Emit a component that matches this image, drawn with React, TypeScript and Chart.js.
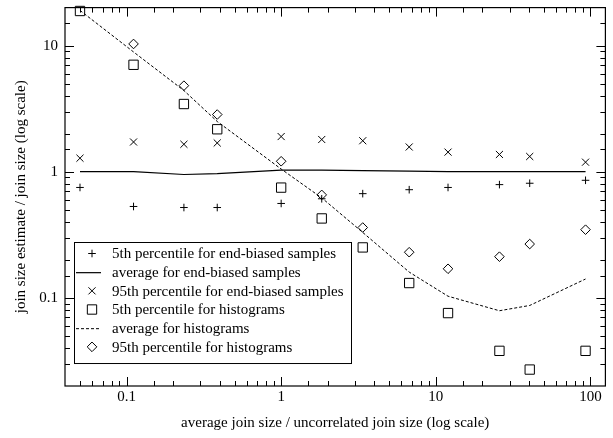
import React, { useEffect, useRef } from "react";
import { Chart, registerables } from "chart.js";

Chart.register(...registerables);

const xVals = [0.05, 0.111, 0.235, 0.386, 1.0, 1.83, 3.37, 6.73, 12.0, 25.8, 40.5, 93];
const p5EndBiased = [0.75, 0.53, 0.52, 0.52, 0.56, 0.61, 0.67, 0.72, 0.75, 0.79, 0.81, 0.855];
const avgEndBiased = [1.0, 1.0, 0.95, 0.965, 1.03, 1.03, 1.02, 1.01, 1.0, 1.0, 1.0, 1.0];
const p95EndBiased = [1.28, 1.72, 1.65, 1.69, 1.9, 1.8, 1.76, 1.57, 1.43, 1.37, 1.32, 1.19];
const p5Hist = [18.8, 7.04, 3.44, 2.17, 0.748, 0.426, 0.251, 0.131, 0.0757, 0.038, 0.027, 0.038];
const avgHist = [19, 8.9, 4.4, 2.5, 1.05, 0.62, 0.33, 0.16, 0.103, 0.079, 0.087, 0.141];
const p95Hist: (number | null)[] = [null, 10.3, 4.81, 2.84, 1.21, 0.655, 0.361, 0.23, 0.17, 0.212, 0.267, 0.347];

const seriesLabels = [
  "5th percentile for end-biased samples",
  "average for end-biased samples",
  "95th percentile for end-biased samples",
  "5th percentile for histograms",
  "average for histograms",
  "95th percentile for histograms",
];

const xTitle = "average join size / uncorrelated join size (log scale)";
const yTitle = "join size estimate / join size (log scale)";

const FONT = "'Liberation Serif', 'Times New Roman', serif";

const toPts = (ys: (number | null)[]) =>
  xVals.map((x, i) => ({ x, y: ys[i] })).filter((p) => p.y !== null) as { x: number; y: number }[];

const isMajor = (v: number) => Math.abs(Math.log10(v) - Math.round(Math.log10(v))) < 1e-6;

function drawMarker(ctx: CanvasRenderingContext2D, style: string, x: number, y: number, r: number) {
  ctx.beginPath();
  if (style === "cross") {
    ctx.moveTo(x - r, y); ctx.lineTo(x + r, y);
    ctx.moveTo(x, y - r); ctx.lineTo(x, y + r);
  } else if (style === "crossRot") {
    const o = r * Math.SQRT1_2;
    ctx.moveTo(x - o, y - o); ctx.lineTo(x + o, y + o);
    ctx.moveTo(x - o, y + o); ctx.lineTo(x + o, y - o);
  } else if (style === "rect") {
    const s = r * Math.SQRT1_2;
    ctx.rect(x - s, y - s, 2 * s, 2 * s);
  } else if (style === "rectRot") {
    ctx.moveTo(x - r, y); ctx.lineTo(x, y - r); ctx.lineTo(x + r, y); ctx.lineTo(x, y + r);
    ctx.closePath();
  }
  ctx.stroke();
}

const frameTicksPlugin = {
  id: "frameTicks",
  afterDatasetsDraw(chart: any) {
    const { ctx, chartArea: a, scales } = chart;
    ctx.save();
    ctx.strokeStyle = "#000";
    ctx.lineWidth = 1;
    const majorLen = 9;
    const minorLen = 5;
    const xs = scales.x;
    xs.ticks.forEach((t: any) => {
      const v = t.value;
      if (v <= xs.min * 1.0001 || v >= xs.max * 0.9999) return;
      const px = Math.round(xs.getPixelForValue(v)) + 0.5;
      const len = isMajor(v) ? majorLen : minorLen;
      ctx.beginPath();
      ctx.moveTo(px, a.bottom); ctx.lineTo(px, a.bottom - len);
      ctx.moveTo(px, a.top); ctx.lineTo(px, a.top + len);
      ctx.stroke();
    });
    const ys = scales.y;
    ys.ticks.forEach((t: any) => {
      const v = t.value;
      if (v <= ys.min * 1.0001 || v >= ys.max * 0.9999) return;
      const py = Math.round(ys.getPixelForValue(v)) + 0.5;
      const len = isMajor(v) ? majorLen : minorLen;
      ctx.beginPath();
      ctx.moveTo(a.left, py); ctx.lineTo(a.left + len, py);
      ctx.moveTo(a.right, py); ctx.lineTo(a.right - len, py);
      ctx.stroke();
    });
    ctx.lineWidth = 1.2;
    ctx.strokeRect(a.left, a.top, a.right - a.left, a.bottom - a.top);

    // legend box
    const lx = a.left + 9;
    const ly = a.bottom - 144;
    const lw = 277;
    const rowH = 18.67;
    const lh = rowH * 6 + 9;
    ctx.fillStyle = "#fff";
    ctx.fillRect(lx, ly, lw, lh);
    ctx.lineWidth = 1;
    ctx.strokeRect(lx + 0.5, ly + 0.5, lw, lh);
    ctx.font = `15px ${FONT}`;
    ctx.textBaseline = "middle";
    ctx.textAlign = "left";
    chart.data.datasets.forEach((ds: any, i: number) => {
      const cy = ly + 11.5 + i * rowH;
      const mx = lx + 18;
      ctx.strokeStyle = "#000";
      ctx.fillStyle = "#000";
      if (ds.showLine) {
        ctx.save();
        ctx.lineWidth = ds.borderWidth;
        ctx.setLineDash(ds.borderDash || []);
        ctx.beginPath();
        ctx.moveTo(lx + 2, cy + 0.5);
        ctx.lineTo(lx + 27, cy + 0.5);
        ctx.stroke();
        ctx.restore();
      } else {
        ctx.lineWidth = 1;
        drawMarker(ctx, ds.pointStyle, mx, cy, ds.pointRadius);
      }
      ctx.fillText(ds.label, lx + 38, cy + 1);
    });
    ctx.restore();
  },
};

export default function App() {
  const ref = useRef<HTMLCanvasElement | null>(null);
  useEffect(() => {
    document.body.style.margin = "0";
    const canvas = ref.current!;
    const pointDs = (label: string, ys: (number | null)[], style: string, r: number) => ({
      label,
      data: toPts(ys),
      showLine: false,
      pointStyle: style,
      pointRadius: r,
      pointHoverRadius: r,
      pointBorderColor: "#000",
      pointBackgroundColor: "rgba(0,0,0,0)",
      pointBorderWidth: 1,
      borderColor: "#000",
      clip: false,
    });
    const lineDs = (label: string, ys: number[], dash: number[], w: number) => ({
      label,
      data: toPts(ys),
      showLine: true,
      pointRadius: 0,
      borderColor: "#000",
      borderWidth: w,
      borderDash: dash,
      fill: false,
      tension: 0,
      clip: false,
    });
    const chart = new Chart(canvas, {
      type: "scatter",
      data: {
        datasets: [
          pointDs(seriesLabels[0], p5EndBiased, "cross", 3.8),
          lineDs(seriesLabels[1], avgEndBiased, [], 1.2),
          pointDs(seriesLabels[2], p95EndBiased, "crossRot", 5),
          pointDs(seriesLabels[3], p5Hist, "rect", 6.6),
          lineDs(seriesLabels[4], avgHist, [3, 2], 1),
          pointDs(seriesLabels[5], p95Hist, "rectRot", 4.8),
        ] as any,
      },
      options: {
        responsive: false,
        animation: false,
        devicePixelRatio: 1,
        layout: { padding: { left: 0, right: 6, top: 5, bottom: 0 } },
        plugins: { legend: { display: false }, tooltip: { enabled: false } },
        scales: {
          x: {
            type: "logarithmic",
            min: 0.04,
            max: 125,
            grid: { display: false, drawTicks: false },
            border: { display: false },
            afterFit: (s: any) => { s.height = 52; s.paddingLeft = 0; s.paddingRight = 0; },
            ticks: {
              autoSkip: false,
              maxRotation: 0,
              padding: 2,
              color: "#000",
              font: { family: FONT, size: 15 },
              callback: (v: any) => (isMajor(Number(v)) ? String(Number(v)) : ""),
            },
            title: {
              display: true,
              text: xTitle,
              color: "#000",
              font: { family: FONT, size: 15 },
              padding: { top: 0, bottom: 6 },
            },
          },
          y: {
            type: "logarithmic",
            min: 0.02,
            max: 20,
            grid: { display: false, drawTicks: false },
            border: { display: false },
            afterFit: (s: any) => { s.width = 65; s.paddingTop = 0; s.paddingBottom = 0; },
            ticks: {
              autoSkip: false,
              padding: 7,
              color: "#000",
              font: { family: FONT, size: 15 },
              callback: (v: any) => (isMajor(Number(v)) ? String(Number(v)) : ""),
            },
            title: {
              display: true,
              text: yTitle,
              color: "#000",
              font: { family: FONT, size: 15 },
              padding: { top: 12, bottom: 0 },
            },
          },
        },
      },
      plugins: [frameTicksPlugin],
    });
    return () => chart.destroy();
  }, []);
  return <canvas ref={ref} width={613} height={438} style={{ display: "block" }} />;
}
